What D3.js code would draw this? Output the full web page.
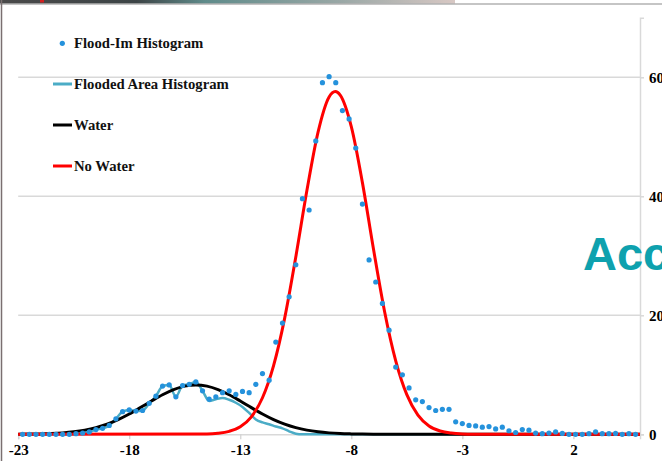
<!DOCTYPE html>
<html>
<head>
<meta charset="utf-8">
<script src="https://cdn.jsdelivr.net/npm/d3@7"></script>
<style>
  html, body { margin: 0; padding: 0; background: #fff; }
  svg { display: block; }
</style>
</head>
<body>
<svg id="chart" width="662" height="461"></svg>
<script>
// Histogram bins (backscatter, dB): first bin centre and bin width
const binStart = -22.8;
const binStep = 0.3;

// Flood-Im histogram counts, one per bin
const floodImCounts = [
  0, 0, 0, 0, 0, 0, 0, 0, 0.1, 0.2,
  0.4, 0.8, 1.0, 1.5, 2.6, 3.8, 4.1, 3.9, 4.0, 5.2,
  6.4, 8.1, 8.3, 6.3, 8.2, 8.4, 8.8, 7.3, 5.9, 6.3,
  7.0, 7.3, 6.7, 7.2, 7.0, 8.4, 10.2, 9.1, 15.5, 18.7,
  23.1, 28.5, 39.6, 37.7, 49.3, 59.1, 60.1, 59.1, 54.4, 53.0,
  48.1, 38.7, 29.3, 25.6, 22.0, 17.5, 11.3, 10.0, 7.8, 5.8,
  5.5, 4.5, 4.0, 4.2, 4.2, 2.1, 1.8, 1.5, 1.4, 1.2,
  1.3, 0.9, 1.2, 0.6, 0.3, 0.8, 0.7, 0.2, 0.1, 0.2,
  0.4, 0.15, 0, 0, 0, 0.1, 0.4, 0.1, 0.1, 0.15,
  0, 0.1, 0
];

// Flooded-area histogram counts, same bins
const floodedAreaCounts = [
  0, 0, 0, 0, 0, 0, 0, 0, 0.1, 0.2,
  0.4, 0.8, 1.0, 1.5, 2.6, 3.8, 4.1, 3.9, 4.0, 5.2,
  6.4, 8.1, 8.3, 6.3, 8.2, 8.4, 8.8, 7.3, 5.6, 5.9,
  6.1, 5.8, 5.3, 4.6, 3.6, 2.5, 2.0, 1.7, 1.3, 1.0,
  0.5, 0.1, 0, 0, 0, 0, 0, 0, 0, 0,
  0, 0, 0, 0, 0, 0, 0, 0, 0, 0,
  0, 0, 0, 0, 0, 0, 0, 0, 0, 0,
  0, 0, 0, 0, 0, 0, 0, 0, 0, 0,
  0, 0, 0, 0, 0, 0, 0, 0, 0, 0,
  0, 0, 0
];

// Fitted "Water" distribution, sampled
const waterX = [-23, -22.5, -22, -21.5, -21, -20.5, -20, -19.5, -19, -18.5, -18, -17.5, -17,
  -16.5, -16, -15.5, -15, -14.5, -14, -13.5, -13, -12.5, -12, -11.5, -11, -10.5, -10,
  -9.5, -9, -8.5, -8, -7.5, -7, 5];
const waterY = [0.015, 0.03, 0.07, 0.13, 0.24, 0.42, 0.70, 1.12, 1.71, 2.47, 3.41, 4.48, 5.59,
  6.65, 7.52, 8.10, 8.30, 8.10, 7.52, 6.65, 5.59, 4.48, 3.41, 2.47, 1.71, 1.12, 0.70,
  0.42, 0.24, 0.13, 0.07, 0.03, 0.015, 0];

// Fitted "No Water" distribution, sampled
const noWaterX = [-23, -14.5, -14, -13.5, -13, -12.5, -12, -11.5, -11, -10.5, -10, -9.5, -9,
  -8.72, -8.5, -8, -7.5, -7, -6.5, -6, -5.5, -5, -4.5, -4, -3.5, -3, -2.5, 5];
const noWaterY = [0, 0.05, 0.17, 0.50, 1.27, 2.94, 6.14, 11.54, 19.52, 29.8, 40.96, 50.75, 56.7,
  57.6, 57.0, 51.7, 42.3, 31.1, 20.6, 12.35, 6.66, 3.23, 1.41, 0.56, 0.20, 0.06, 0.02, 0];

// Axis ticks
const xTicks = [-23, -18, -13, -8, -3, 2];
const yTicks = [0, 20, 40, 60];

// Legend entries
const legendItems = [
  { label: "Flood-Im Histogram", kind: "dot", color: "#2592dc" },
  { label: "Flooded Area Histogram", kind: "line", color: "#4bacc6" },
  { label: "Water", kind: "line", color: "#000000" },
  { label: "No Water", kind: "line", color: "#ff0000" }
];

const svg = d3.select("#chart");
const W = 662, H = 461;

// slide frame: top strip and borders
const defs = svg.append("defs");
const grad = defs.append("linearGradient").attr("id", "strip").attr("x1", 0).attr("x2", 1);
grad.append("stop").attr("offset", "0%").attr("stop-color", "#4a4a4a");
grad.append("stop").attr("offset", "30%").attr("stop-color", "#3c4446");
grad.append("stop").attr("offset", "45%").attr("stop-color", "#5f8b8a");
grad.append("stop").attr("offset", "75%").attr("stop-color", "#9aa8a6");
grad.append("stop").attr("offset", "100%").attr("stop-color", "#d8c8c4");
svg.append("rect").attr("x", 0).attr("y", 0).attr("width", 455).attr("height", 3.5).attr("fill", "url(#strip)");
svg.append("rect").attr("x", 40).attr("y", 0).attr("width", 4).attr("height", 2.5).attr("fill", "#d42020");
svg.append("line").attr("x1", 0).attr("x2", W).attr("y1", 4).attr("y2", 4)
  .attr("stroke", "#8c8c8c").attr("stroke-width", 1.2);
svg.append("line").attr("x1", 1.5).attr("x2", 1.5).attr("y1", 0).attr("y2", H)
  .attr("stroke", "#7a6f70").attr("stroke-width", 1.5);

// scales
const x = d3.scaleLinear().domain([-23, 5]).range([18.2, 640]);
const y = d3.scaleLinear().domain([0, 70]).range([434.3, 17.8]);

const serif = "'Liberation Serif', 'Times New Roman', serif";

// horizontal gridlines
svg.append("g").selectAll("line").data(yTicks.filter(d => d > 0)).join("line")
  .attr("x1", x(-23)).attr("x2", x(5))
  .attr("y1", d => y(d)).attr("y2", d => y(d))
  .attr("stroke", "#d9d9d9").attr("stroke-width", 1.5);

// right value axis
const yAxis = d3.axisRight(y).tickValues(yTicks).tickSize(4).tickFormat(d3.format("d"));
const yAxisG = svg.append("g").attr("transform", `translate(${x(5)},0)`).call(yAxis);
yAxisG.select(".domain").attr("stroke", "#d9d9d9").attr("stroke-width", 1.5);
yAxisG.selectAll(".tick line").attr("stroke", "#d9d9d9").attr("stroke-width", 1.5);
yAxisG.selectAll(".tick text")
  .attr("x", 9).attr("dy", "0.36em")
  .attr("fill", "#000").attr("font-family", serif).attr("font-weight", "bold").attr("font-size", 15);

// bottom category axis
const xAxis = d3.axisBottom(x).tickValues(xTicks).tickSize(5).tickFormat(d3.format("d"));
const xAxisG = svg.append("g").attr("transform", `translate(0,${y(0)})`).call(xAxis);
xAxisG.select(".domain").attr("stroke", "#d9d9d9").attr("stroke-width", 1.5);
xAxisG.selectAll(".tick line").attr("stroke", "#d0d0d0").attr("stroke-width", 1.2);
xAxisG.selectAll(".tick text")
  .attr("y", 10).attr("dy", "0.71em")
  .text(d => (d < 0 ? "-" + Math.abs(d) : String(d)))
  .attr("fill", "#000").attr("font-family", serif).attr("font-weight", "bold").attr("font-size", 15);

// series
const bins = floodImCounts.map((v, i) => ({ x: binStart + i * binStep, y: v }));
const areaBins = floodedAreaCounts.map((v, i) => ({ x: binStart + i * binStep, y: v }));
const water = waterX.map((v, i) => ({ x: v, y: waterY[i] }));
const noWater = noWaterX.map((v, i) => ({ x: v, y: noWaterY[i] }));

const line = d3.line().x(d => x(d.x)).y(d => y(d.y)).curve(d3.curveMonotoneX);

svg.append("path").datum(areaBins).attr("d", line)
  .attr("fill", "none").attr("stroke", "#4bacc6").attr("stroke-width", 2.5)
  .attr("stroke-linejoin", "round");
svg.append("path").datum(water).attr("d", line)
  .attr("fill", "none").attr("stroke", "#000").attr("stroke-width", 3)
  .attr("stroke-linejoin", "round");
svg.append("path").datum(noWater).attr("d", line)
  .attr("fill", "none").attr("stroke", "#ff0000").attr("stroke-width", 3)
  .attr("stroke-linejoin", "round");

svg.append("g").selectAll("circle").data(bins).join("circle")
  .attr("cx", d => x(d.x)).attr("cy", d => y(d.y)).attr("r", 2.6)
  .attr("fill", "#2592dc");

// legend
const legend = svg.append("g");
const rowY = [43.3, 84, 125, 166];
legendItems.forEach((item, i) => {
  const g = legend.append("g").attr("transform", `translate(0,${rowY[i]})`);
  if (item.kind === "dot") {
    g.append("circle").attr("cx", 62.3).attr("cy", 0).attr("r", 2.6).attr("fill", item.color);
  } else {
    g.append("line").attr("x1", 53).attr("x2", 72).attr("y1", 0).attr("y2", 0)
      .attr("stroke", item.color).attr("stroke-width", 3);
  }
  g.append("text").attr("x", 74).attr("y", 5)
    .attr("font-family", serif).attr("font-weight", "bold").attr("font-size", 14.7)
    .attr("fill", "#111").text(item.label);
});

// slide heading fragment that overlaps the chart on the right
svg.append("text").attr("x", 583).attr("y", 270)
  .attr("font-family", "'Liberation Sans', Arial, sans-serif").attr("font-weight", "bold")
  .attr("font-size", 47).attr("fill", "#0ea1ae").text("Acc");
</script>
</body>
</html>
